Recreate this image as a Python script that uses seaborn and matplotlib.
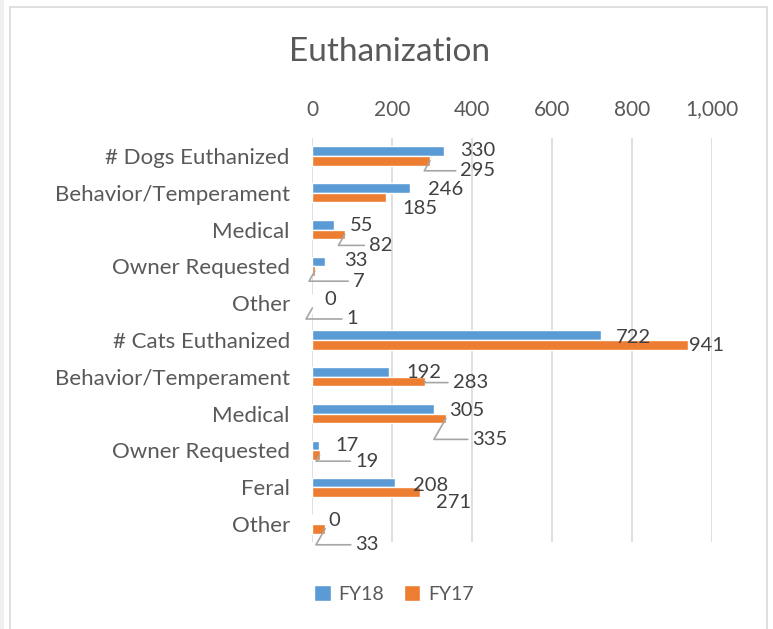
import matplotlib
matplotlib.use("Agg")
import pandas as pd
import seaborn as sns
import matplotlib.pyplot as plt
from matplotlib.patches import Rectangle

# Data
categories = ["# Dogs Euthanized", "Behavior/Temperament", "Medical", "Owner Requested", "Other",
              "# Cats Euthanized", "Behavior/Temperament", "Medical", "Owner Requested", "Feral", "Other"]
fy18 = [330, 246, 55, 33, 0, 722, 192, 305, 17, 208, 0]
fy17 = [295, 185, 82, 7, 1, 941, 283, 335, 19, 271, 33]
x_ticks = [0, 200, 400, 600, 800, 1000]

# label offsets in pixels from the bar end (dx, dy down), and whether a leader line is drawn
fy18_offsets = [(34, -1), (35, 1), (28, 1), (31, -1), (18, 1), (33, 2), (35, 0), (33, 2), (28, 0), (35, 3), (22, 1)]
fy17_offsets = [(48, 10), (34, 11), (36, 11), (44, 10), (40, 11), (18, 1), (45, 1), (44, 21), (47, 6), (33, 11), (42, 16)]
fy17_leader = [True, False, True, True, True, False, True, True, True, False, True]

blue = "#5B9BD5"
orange = "#ED7D31"
text_gray = "#595959"
label_gray = "#404040"

keys = [str(i) for i in range(len(categories))]
df = pd.DataFrame({
    "key": keys * 2,
    "value": fy18 + fy17,
    "year": ["FY18"] * len(keys) + ["FY17"] * len(keys),
})

sns.set_theme(style="white")
plt.rcParams["font.family"] = ["Lato", "DejaVu Sans"]

fig = plt.figure(figsize=(7.73, 6.29), dpi=100)
ax = fig.add_axes([312 / 773, 1 - 542.4 / 629, 400 / 773, (542.4 - 137.6) / 629])

sns.barplot(data=df, y="key", x="value", hue="year", order=keys, hue_order=["FY18", "FY17"],
            palette=[blue, orange], orient="h", width=0.52, ax=ax, legend=True, saturation=1)

ax.set_xlim(0, 1000)
ax.set_ylim(len(keys) - 0.5, -0.5)
ax.set_xticks(x_ticks)
ax.set_xticklabels([f"{t:,}" for t in x_ticks], color=text_gray, fontsize=15)
ax.xaxis.tick_top()
ax.tick_params(axis="x", length=0, pad=13)
ax.set_yticks(range(len(keys)))
ax.set_yticklabels(categories, color=text_gray, fontsize=16)
ax.tick_params(axis="y", length=0, pad=16)
ax.set_xlabel("")
ax.set_ylabel("")
ax.grid(axis="x", color="#D9D9D9", linewidth=1.2)
ax.set_axisbelow(True)
for s in ax.spines.values():
    s.set_visible(False)

# data labels
for i, k in enumerate(keys):
    for val, off, lead, shift in [(fy18[i], fy18_offsets[i], False, -0.13),
                                  (fy17[i], fy17_offsets[i], fy17_leader[i], 0.13)]:
        kw = {}
        if lead:
            kw["arrowprops"] = dict(arrowstyle="-", color="#A6A6A6", lw=1.2,
                                    connectionstyle="angle,angleA=0,angleB=60,rad=0",
                                    shrinkA=1, shrinkB=0)
        ax.annotate(f"{val}", xy=(val, i + shift), xytext=(off[0], -off[1]),
                    textcoords="offset pixels", ha="center", va="center",
                    fontsize=14.5, color=label_gray, annotation_clip=False, **kw)

leg = ax.legend(loc="center", bbox_to_anchor=(394 / 773, 1 - 594 / 629),
                bbox_transform=fig.transFigure, ncol=2, frameon=False,
                fontsize=14, handlelength=0.85, handleheight=0.85, columnspacing=1.0,
                handletextpad=0.4)
for t in leg.get_texts():
    t.set_color(text_gray)

fig.text(390 / 773, 1 - 52 / 629, "Euthanization", ha="center", va="center",
         fontsize=24, color=text_gray)

# chart area border
fig.patches.append(Rectangle((0, 0), 4 / 773, 1, transform=fig.transFigure,
                             facecolor="#F0F0F0", edgecolor="none"))
fig.patches.append(Rectangle((10 / 773, -0.1), 757 / 773, 1.1 - 7 / 629, transform=fig.transFigure,
                             facecolor="none", edgecolor="#D9D9D9", linewidth=1.2))

fig.savefig("out.png", dpi=100)
